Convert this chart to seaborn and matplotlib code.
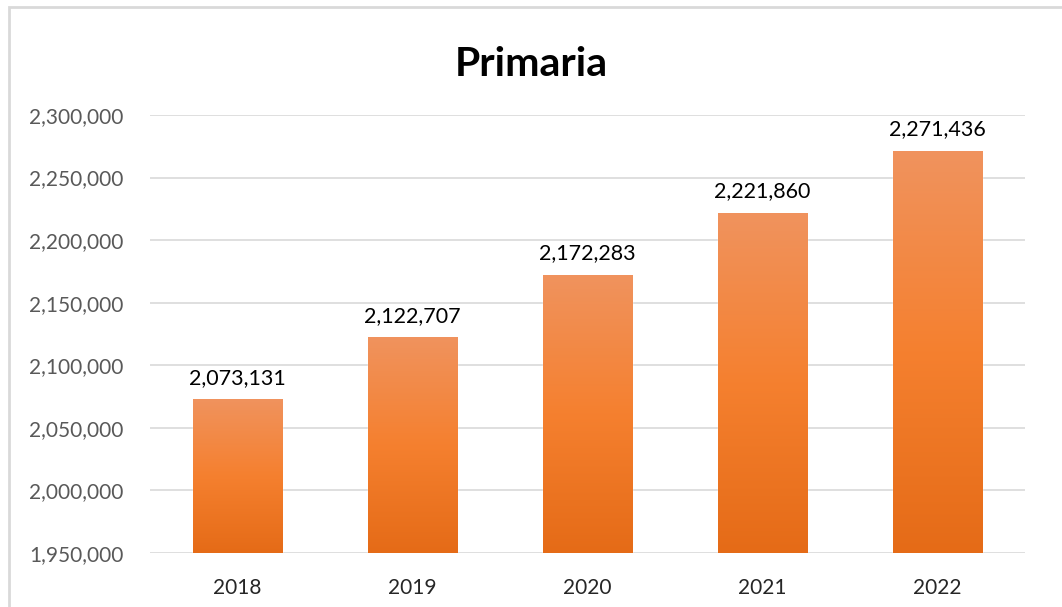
import numpy as np
import pandas as pd
import matplotlib
matplotlib.use("Agg")
import matplotlib.pyplot as plt
import seaborn as sns
from matplotlib.colors import LinearSegmentedColormap
from matplotlib.patches import Rectangle
from matplotlib.ticker import FuncFormatter

years = ["2018", "2019", "2020", "2021", "2022"]
alumnos = [2073131, 2122707, 2172283, 2221860, 2271436]
y_min, y_max, y_step = 1950000, 2300000, 50000

df = pd.DataFrame({"anio": years, "alumnos": alumnos})

sns.set_style("white")
plt.rcParams["font.family"] = ["Lato", "DejaVu Sans"]

fig = plt.figure(figsize=(10.62, 6.07), dpi=100)
ax = fig.add_axes([150 / 1062, 1 - 553 / 607, 875 / 1062, (553 - 115) / 607])

sns.barplot(data=df, x="anio", y="alumnos", color="#F5802F", width=0.51,
            ax=ax, zorder=3)

# degradado vertical dentro de cada barra
cmap = LinearSegmentedColormap.from_list("naranja", ["#E56B17", "#F5802F", "#F0935E"])
grad = np.linspace(0, 1, 256).reshape(-1, 1)
for bar in ax.patches:
    x0, w = bar.get_x(), bar.get_width()
    h = bar.get_height()
    bar.set_facecolor("none")
    im = ax.imshow(grad, cmap=cmap, origin="lower", aspect="auto",
                   extent=[x0, x0 + w, y_min, h], zorder=3)
    im.set_clip_path(bar)

ax.set_xlim(-0.5, len(years) - 0.5)
ax.set_ylim(y_min, y_max)
ax.set_yticks(np.arange(y_min, y_max + 1, y_step))
ax.yaxis.set_major_formatter(FuncFormatter(lambda v, p: f"{int(v):,}"))
ax.grid(axis="y", color="#D9D9D9", linewidth=1.2, zorder=0)
ax.set_axisbelow(True)
for s in ax.spines.values():
    s.set_visible(False)
ax.tick_params(axis="y", length=0, pad=19, labelsize=15, labelcolor="#595959")
ax.tick_params(axis="x", length=0, pad=18, labelsize=15, labelcolor="#262626")
ax.set_xlabel("")
ax.set_ylabel("")

for i, v in enumerate(alumnos):
    ax.text(i, v + 9000, f"{v:,}", ha="center", va="bottom", fontsize=15.5,
            color="#000000")

fig.text(531 / 1062, 1 - 65 / 607, "Primaria", ha="center", va="center",
         fontsize=29.5, fontweight="bold", color="#000000")

# marco del gráfico
fig.patches.append(Rectangle((9 / 1062, -0.05), 1.2, 1 - 7 / 607 + 0.05,
                             transform=fig.transFigure, fill=False,
                             edgecolor="#D9D9D9", linewidth=2))

fig.savefig("out.png", dpi=100)
